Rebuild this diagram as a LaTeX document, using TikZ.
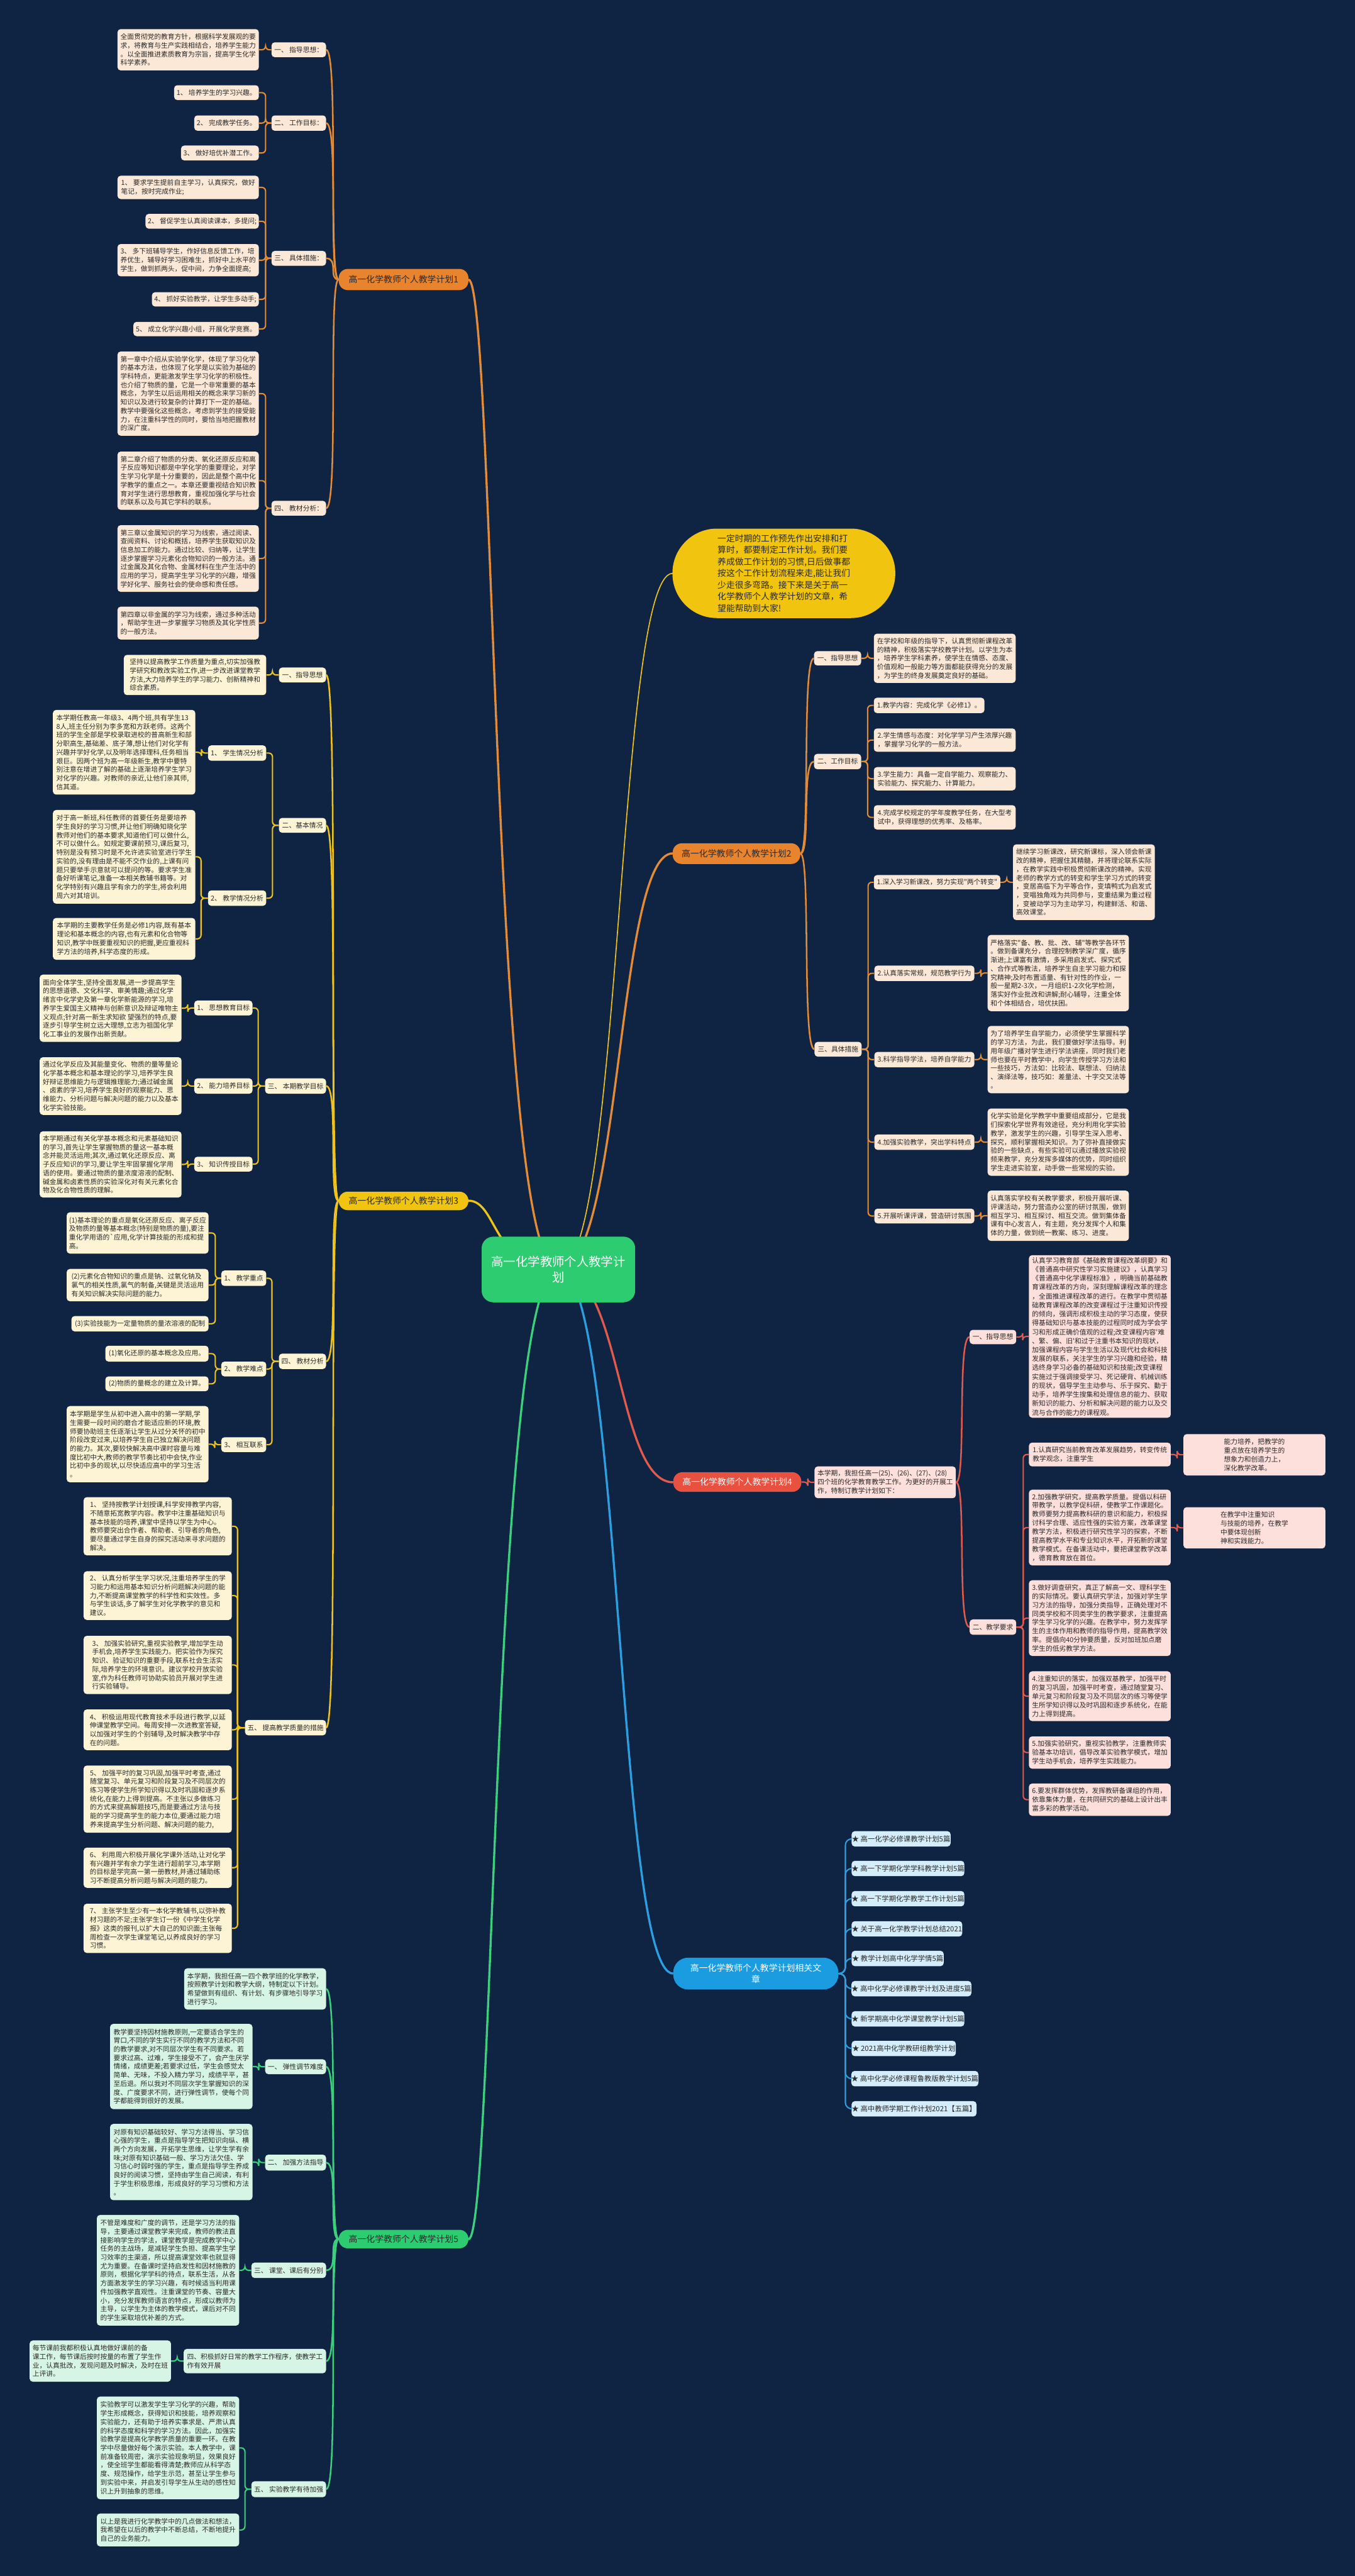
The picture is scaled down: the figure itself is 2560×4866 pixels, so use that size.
\documentclass[tikz,border=0pt]{standalone}
\usepackage{fontspec}
\newfontfamily\cjk{Noto Sans CJK SC}
\definecolor{bg}{HTML}{0F2342}
\definecolor{txt}{HTML}{2A2A2A}
\definecolor{oline}{HTML}{E38B35}
\definecolor{ofill}{HTML}{FCE8D6}
\definecolor{onode}{HTML}{E8832E}
\definecolor{yline}{HTML}{EFC31B}
\definecolor{yfill}{HTML}{FCF4D4}
\definecolor{ynode}{HTML}{F1C40F}
\definecolor{rline}{HTML}{E15A4C}
\definecolor{rfill}{HTML}{FDDFDB}
\definecolor{rnode}{HTML}{E8503F}
\definecolor{bline}{HTML}{2D9FE0}
\definecolor{bfill}{HTML}{D4EDFA}
\definecolor{bnode}{HTML}{1B9CE0}
\definecolor{gline}{HTML}{3CCF7C}
\definecolor{gfill}{HTML}{D7F5E5}
\definecolor{gnode}{HTML}{2ECC71}
\tikzset{
  base/.style={font={\cjk\fontsize{12.8}{16.3}\selectfont}, inner sep=0pt, align=left, text=txt, rounded corners=6pt},
  ol/.style={base, fill=ofill},
  yl/.style={base, fill=yfill},
  rl/.style={base, fill=rfill, font={\cjk\fontsize{12.8}{16.6}\selectfont}},
  bl/.style={base, fill=bfill, font={\cjk\fontsize{13.5}{16}\selectfont}},
  gl/.style={base, fill=gfill},
  bn/.style={base, rounded corners=17pt, font={\cjk\fontsize{16.5}{21}\selectfont}, align=center},
  cn/.style={base, rounded corners=22pt, fill=gnode, text=white, font={\cjk\fontsize{23}{30}\selectfont}, align=center},
  bub/.style={base, rounded corners=84pt, fill=ynode, text=txt, font={\cjk\fontsize{16.4}{22}\selectfont}},
  ocon/.style={draw=oline, line width=2.5pt},
  ycon/.style={draw=yline, line width=2.5pt},
  rcon/.style={draw=rline, line width=2.5pt},
  bcon/.style={draw=bline, line width=2.5pt},
  gcon/.style={draw=gline, line width=2.5pt},
}
\newcommand\bx[7]{\node[#6,minimum width={(#4)-(#2)},minimum height={(#5)-(#3)}] (#1) at ({((#2)+(#4))/2},{((#3)+(#5))/2}) {#7};}
\newcommand\lbr[4]{\draw[#1,rounded corners=7pt] (#2.west) -- ++(-#4,0) |- (#3.east);}
\newcommand\rbr[4]{\draw[#1,rounded corners=7pt] (#2.east) -- ++(#4,0) |- (#3.west);}
\newcommand\ltr[3]{\draw[#1] (#2.west) .. controls +(-20,0) and +(24,0) .. (#3.east);}
\newcommand\rtr[3]{\draw[#1] (#2.east) .. controls +(20,0) and +(-24,0) .. (#3.west);}
\begin{document}
\begin{tikzpicture}[x=1pt,y=-1pt]
\useasboundingbox (0,0) rectangle (2560,4866);
\fill[bg] (0,0) rectangle (2560,4866);
\coordinate (cc) at (1055,2398);
% ---------- center connections (drawn first) ----------
\draw[draw=oline,line width=4pt] (cc) .. controls (930,2398) and (935,528) .. (885,528);
\draw[draw=yline,line width=4pt] (cc) .. controls (930,2398) and (940,2268) .. (885,2268);
\draw[draw=gline,line width=4pt] (cc) .. controls (930,2398) and (935,4230) .. (885,4230);
\draw[draw=yline,line width=2pt] (cc) .. controls (1175,2398) and (1165,1083) .. (1271,1083);
\draw[draw=oline,line width=4pt] (cc) .. controls (1175,2398) and (1165,1612) .. (1271,1612);
\draw[draw=rline,line width=4pt] (cc) .. controls (1175,2398) and (1165,2800) .. (1272,2800);
\draw[draw=bline,line width=4pt] (cc) .. controls (1175,2398) and (1165,3728) .. (1272,3728);
\bx{c}{910}{2336}{1200}{2460}{cn}{高一化学教师个人教学计\\划}
\node[bub,minimum width=421pt,minimum height=169pt] (bubl) at (1481,1083) {一定时期的工作预先作出安排和打\\算时，都要制定工作计划。我们要\\养成做工作计划的习惯,日后做事都\\按这个工作计划流程来走,能让我们\\少走很多弯路。接下来是关于高一\\化学教师个人教学计划的文章，希\\望能帮助到大家!};
% ================= Branch 1 =================
\bx{b1}{640}{508}{885}{548}{bn,fill=onode}{高一化学教师个人教学计划1}
\bx{b1a}{513}{80}{616}{108}{ol}{一、 指导思想：}
\bx{b1b}{513}{218}{616}{247}{ol}{二、 工作目标：}
\bx{b1c}{513}{474}{616}{502}{ol}{三、 具体措施：}
\bx{b1d}{513}{946}{616}{974}{ol}{四、 教材分析：}
\bx{b1a1}{222}{55}{489}{133}{ol}{全面贯彻党的教育方针，根据科学发展观的要\\求，将教育与生产实践相结合，培养学生能力\\。以全面推进素质教育为宗旨，提高学生化学\\科学素养。}
\bx{b1b1}{329}{161}{489}{189}{ol}{1、 培养学生的学习兴趣。}
\bx{b1b2}{367}{218}{489}{247}{ol}{2、 完成教学任务。}
\bx{b1b3}{342}{275}{489}{303}{ol}{3、 做好培优补潜工作。}
\bx{b1c1}{222}{332}{489}{376}{ol}{1、 要求学生提前自主学习，认真探究，做好\\笔记，按时完成作业;}
\bx{b1c2}{275}{404}{489}{432}{ol}{2、 督促学生认真阅读课本，多提问;}
\bx{b1c3}{222}{461}{489}{522}{ol}{3、 多下班辅导学生，作好信息反馈工作，培\\养优生，辅导好学习困难生，抓好中上水平的\\学生，做到抓两头，促中间，力争全面提高;}
\bx{b1c4}{287}{552}{489}{579}{ol}{4、 抓好实验教学，让学生多动手;}
\bx{b1c5}{252}{608}{489}{635}{ol}{5、 成立化学兴趣小组，开展化学竞赛。}
\bx{b1d1}{222}{664}{489}{823}{ol}{第一章中介绍从实验学化学，体现了学习化学\\的基本方法，也体现了化学是以实验为基础的\\学科特点，更能激发学生学习化学的积极性。\\也介绍了物质的量，它是一个非常重要的基本\\概念，为学生以后运用相关的概念来学习新的\\知识以及进行较复杂的计算打下一定的基础。\\教学中要强化这些概念，考虑到学生的接受能\\力，在注重科学性的同时，要恰当地把握教材\\的深广度。}
\bx{b1d2}{222}{853}{489}{963}{ol}{第二章介绍了物质的分类、氧化还原反应和离\\子反应等知识都是中学化学的重要理论，对学\\生学习化学是十分重要的，因此是整个高中化\\学教学的重点之一。本章还要重视结合知识教\\育对学生进行思想教育，重视加强化学与社会\\的联系以及与其它学科的联系。}
\bx{b1d3}{222}{992}{489}{1118}{ol}{第三章以金属知识的学习为线索，通过阅读、\\查阅资料、讨论和概括，培养学生获取知识及\\信息加工的能力。通过比较、归纳等，让学生\\逐步掌握学习元素化合物知识的一般方法。通\\过金属及其化合物、金属材料在生产生活中的\\应用的学习，提高学生学习化学的兴趣，增强\\学好化学、服务社会的使命感和责任感。}
\bx{b1d4}{222}{1146}{489}{1208}{ol}{第四章以非金属的学习为线索，通过多种活动\\，帮助学生进一步掌握学习物质及其化学性质\\的一般方法。}
\foreach \l in {b1a,b1b,b1c,b1d} {\ltr{ocon,line width=3pt}{b1}{\l}}
\lbr{ocon}{b1a}{b1a1}{11}
\foreach \l in {b1b1,b1b2,b1b3} {\lbr{ocon}{b1b}{\l}{11}}
\foreach \l in {b1c1,b1c2,b1c3,b1c4,b1c5} {\lbr{ocon}{b1c}{\l}{11}}
\foreach \l in {b1d1,b1d2,b1d3,b1d4} {\lbr{ocon}{b1d}{\l}{11}}
% ================= Branch 2 =================
\bx{b2}{1271}{1593}{1512}{1632}{bn,fill=onode}{高一化学教师个人教学计划2}
\bx{b2a}{1538}{1230}{1627}{1257}{ol}{一、指导思想}
\bx{b2b}{1538}{1424}{1627}{1453}{ol}{二、工作目标}
\bx{b2c}{1539}{1968}{1628}{1996}{ol}{三、具体措施}
\bx{b2a1}{1651}{1197}{1919}{1290}{ol}{在学校和年级的指导下，认真贯彻新课程改革\\的精神，积极落实学校教学计划。以学生为本\\，培养学生学科素养，使学生在情感、态度、\\价值观和一般能力等方面都能获得充分的发展\\，为学生的终身发展奠定良好的基础。}
\bx{b2b1}{1651}{1318}{1860}{1347}{ol}{1.教学内容：完成化学《必修1》。}
\bx{b2b2}{1651}{1376}{1919}{1420}{ol}{2.学生情感与态度：对化学学习产生浓厚兴趣\\，掌握学习化学的一般方法。}
\bx{b2b3}{1651}{1449}{1919}{1493}{ol}{3.学生能力：具备一定自学能力、观察能力、\\实验能力、探究能力、计算能力。}
\bx{b2b4}{1651}{1521}{1919}{1567}{ol}{4.完成学校规定的学年度教学任务，在大型考\\试中，获得理想的优秀率、及格率。}
\bx{b2c1}{1651}{1653}{1890}{1680}{ol}{1.深入学习新课改，努力实现"两个转变"}
\bx{b2c2}{1652}{1824}{1841}{1853}{ol}{2.认真落实常规，规范教学行为}
\bx{b2c3}{1652}{1987}{1841}{2016}{ol}{3.科学指导学法，培养自学能力}
\bx{b2c4}{1652}{2143}{1841}{2172}{ol}{4.加强实验教学，突出学科特点}
\bx{b2c5}{1652}{2283}{1841}{2311}{ol}{5.开展听课评课，营造研讨氛围}
\bx{b2c1a}{1914}{1595}{2182}{1738}{ol}{继续学习新课改，研究新课标，深入领会新课\\改的精神，把握住其精髓，并将理论联系实际\\，在教学实践中积极贯彻新课改的精神。实现\\老师的教学方式的转变和学生学习方式的转变\\，变居高临下为平等合作，变填鸭式为启发式\\，变唱独角戏为共同参与，变重结果为重过程\\，变被动学习为主动学习，构建鲜活、和谐、\\高效课堂。}
\bx{b2c2a}{1866}{1766}{2133}{1910}{ol}{严格落实"备、教、批、改、辅"等教学各环节\\。做到备课充分，合理控制教学深广度，循序\\渐进;上课富有激情，多采用启发式、探究式\\、合作式等教法，培养学生自主学习能力和探\\究精神;及时布置适量、有针对性的作业，一\\般一星期2-3次，一月组织1-2次化学检测，\\落实好作业批改和讲解;耐心辅导，注重全体\\和个体相结合，培优扶困。}
\bx{b2c3a}{1866}{1938}{2133}{2065}{ol}{为了培养学生自学能力，必须使学生掌握科学\\的学习方法，为此，我们要做好学法指导。利\\用年级广播对学生进行学法讲座，同时我们老\\师也要在平时教学中，向学生传授学习方法和\\一些技巧，方法如：比较法、联想法、归纳法\\、演绎法等，技巧如：差量法、十字交叉法等\\。}
\bx{b2c4a}{1866}{2094}{2133}{2221}{ol}{化学实验是化学教学中重要组成部分，它是我\\们探索化学世界有效途径，充分利用化学实验\\教学，激发学生的兴趣，引导学生深入思考、\\探究，顺利掌握相关知识。为了弥补直接做实\\验的一些缺点，有些实验可以通过播放实验视\\频来教学，充分发挥多媒体的优势，同时组织\\学生走进实验室，动手做一些常规的实验。}
\bx{b2c5a}{1866}{2249}{2133}{2344}{ol}{认真落实学校有关教学要求，积极开展听课、\\评课活动，努力营造办公室的研讨氛围，做到\\相互学习、相互探讨、相互交流。做到集体备\\课有中心发言人，有主题，充分发挥个人和集\\体的力量，做到统一教案、练习、进度。}
\foreach \l in {b2a,b2b,b2c} {\rtr{ocon,line width=3pt}{b2}{\l}}
\rbr{ocon}{b2a}{b2a1}{12}
\foreach \l in {b2b1,b2b2,b2b3,b2b4} {\rbr{ocon}{b2b}{\l}{12}}
\foreach \l in {b2c1,b2c2,b2c3,b2c4,b2c5} {\rbr{ocon}{b2c}{\l}{12}}
\rbr{ocon}{b2c1}{b2c1a}{12}
\rbr{ocon}{b2c2}{b2c2a}{12}
\rbr{ocon}{b2c3}{b2c3a}{12}
\rbr{ocon}{b2c4}{b2c4a}{12}
\rbr{ocon}{b2c5}{b2c5a}{12}
% ================= Branch 3 =================
\bx{b3}{640}{2251}{885}{2286}{bn,fill=ynode}{高一化学教师个人教学计划3}
\bx{b3a}{527}{1261}{616}{1289}{yl}{一、指导思想}
\bx{b3b}{527}{1545}{616}{1573}{yl}{二、基本情况}
\bx{b3c}{501}{2037}{616}{2066}{yl}{三、 本期教学目标}
\bx{b3d}{527}{2557}{616}{2586}{yl}{四、 教材分析}
\bx{b3e}{463}{3249}{616}{3278}{yl}{五、 提高教学质量的措施}
\bx{b3a1}{234}{1237}{503}{1313}{yl}{坚持以提高教学工作质量为重点,切实加强教\\学研究和教改实验工作,进一步改进课堂教学\\方法,大力培养学生的学习能力、创新精神和\\综合素质。}
\bx{b3b1}{393}{1408}{503}{1437}{yl}{1、 学生情况分析}
\bx{b3b2}{393}{1682}{503}{1711}{yl}{2、 教学情况分析}
\bx{b3b1a}{100}{1341}{369}{1501}{yl}{本学期任教高一年级3、4两个班,共有学生13\\8人,班主任分别为李多宽和方跃老师。这两个\\班的学生全部是学校录取进校的普高新生和部\\分职高生,基础差、底子薄,想让他们对化学有\\兴趣并学好化学,以及明年选择理科,任务相当\\艰巨。因两个班为高一年级新生,教学中要特\\别注意在增进了解的基础上逐渐培养学生学习\\对化学的兴趣。对教师的亲近,让他们亲其师,\\信其道。}
\bx{b3b2a}{100}{1530}{369}{1707}{yl}{对于高一新班,科任教师的首要任务是要培养\\学生良好的学习习惯,并让他们明确知晓化学\\教师对他们的基本要求,知道他们可以做什么,\\不可以做什么。如规定要课前预习,课后复习,\\特别是没有预习时是不允许进实验室进行学生\\实验的,没有理由是不能不交作业的,上课有问\\题只要举手示意就可以提问的等。要求学生准\\备好听课笔记,准备一本相关教辅书籍等。对\\化学特别有兴趣且学有余力的学生,将会利用\\周六对其培训。}
\bx{b3b2b}{100}{1734}{369}{1813}{yl}{本学期的主要教学任务是必修1内容,既有基本\\理论和基本概念的内容,也有元素和化合物等\\知识,教学中既要重视知识的把握,更应重视科\\学方法的培养,科学态度的形成。}
\bx{b3c1}{367}{1890}{477}{1918}{yl}{1、 思想教育目标}
\bx{b3c2}{367}{2037}{477}{2066}{yl}{2、 能力培养目标}
\bx{b3c3}{367}{2185}{477}{2213}{yl}{3、 知识传授目标}
\bx{b3c1a}{75}{1841}{343}{1968}{yl}{面向全体学生,坚持全面发展,进一步提高学生\\的思想道德、文化科学、审美情趣;通过化学\\绪言中化学史及第一章化学新能源的学习,培\\养学生爱国主义精神与创新意识及辩证唯物主\\义观点;针对高一新生求知欲 望强烈的特点,要\\逐步引导学生树立远大理想,立志为祖国化学\\化工事业的发展作出新贡献。}
\bx{b3c2a}{75}{1997}{343}{2106}{yl}{通过化学反应及其能量变化、物质的量等量论\\化学基本概念和基本理论的学习,培养学生良\\好辩证思维能力与逻辑推理能力;通过碱金属\\、卤素的学习,培养学生良好的观察能力、思\\维能力、分析问题与解决问题的能力以及基本\\化学实验技能。}
\bx{b3c3a}{75}{2137}{343}{2262}{yl}{本学期通过有关化学基本概念和元素基础知识\\的学习,首先让学生掌握物质的量这一基本概\\念并能灵活运用;其次,通过氧化还原反应、离\\子反应知识的学习,要让学生牢固掌握化学用\\语的使用。要通过物质的量浓度溶液的配制、\\碱金属和卤素性质的实验深化对有关元素化合\\物及化合物性质的理解。}
\bx{b3d1}{418}{2400}{503}{2429}{yl}{1、 教学重点}
\bx{b3d2}{418}{2572}{503}{2600}{yl}{2、 教学难点}
\bx{b3d3}{418}{2715}{503}{2743}{yl}{3、 相互联系}
\bx{b3d1a}{126}{2290}{394}{2368}{yl}{(1)基本理论的重点是氧化还原反应、离子反应\\及物质的量等基本概念(特别是物质的量),要注\\重化学用语的`应用,化学计算技能的形成和提\\高。}
\bx{b3d1b}{126}{2397}{394}{2458}{yl}{(2)元素化合物知识的重点是钠、过氧化钠及\\氯气的相关性质,氯气的制备,关键是灵活运用\\有关知识解决实际问题的能力。}
\bx{b3d1c}{135}{2486}{394}{2515}{yl}{(3)实验技能为一定量物质的量浓溶液的配制}
\bx{b3d2a}{199}{2542}{394}{2572}{yl}{(1)氧化还原的基本概念及应用。}
\bx{b3d2b}{199}{2600}{394}{2628}{yl}{(2)物质的量概念的建立及计算。}
\bx{b3d3a}{126}{2656}{394}{2800}{yl}{本学期是学生从初中进入高中的第一学期,学\\生需要一段时间的磨合才能适应新的环境,教\\师要协助班主任逐渐让学生从过分关怀的初中\\阶段改变过来,以培养学生自己独立解决问题\\的能力。其次,要较快解决高中课时容量与难\\度比初中大,教师的教学节奏比初中会快,作业\\比初中多的现状,以尽快适应高中的学习生活\\。}
\bx{b3e1}{158}{2828}{438}{2938}{yl}{1、 坚持按教学计划授课,科学安排教学内容,\\不随意拓宽教学内容。教学中注重基础知识与\\基本技能的培养,课堂中坚持以学生为中心。\\教师要突出合作者、帮助者、引导者的角色,\\要尽量通过学生自身的探究活动来寻求问题的\\解决。}
\bx{b3e2}{158}{2968}{438}{3060}{yl}{2、 认真分析学生学习状况,注重培养学生的学\\习能力和运用基本知识分析问题解决问题的能\\力,不断提高课堂教学的科学性和实效性。多\\与学生谈话,多了解学生对化学教学的意见和\\建议。}
\bx{b3e3}{158}{3090}{438}{3200}{yl}{3、 加强实验研究,重视实验教学,增加学生动\\手机会,培养学生实践能力。把实验作为探究\\知识、验证知识的重要手段,联系社会生活实\\际,培养学生的环境意识。建议学校开放实验\\室,作为科任教师可协助实验员开展对学生进\\行实验辅导。}
\bx{b3e4}{158}{3229}{438}{3306}{yl}{4、 积极运用现代教育技术手段进行教学,以延\\伸课堂教学空间。每周安排一次进教室答疑,\\以加强对学生的个别辅导,及时解决教学中存\\在的问题。}
\bx{b3e5}{158}{3335}{438}{3462}{yl}{5、 加强平时的复习巩固,加强平时考查,通过\\随堂复习、单元复习和阶段复习及不同层次的\\练习等使学生所学知识得以及时巩固和逐步系\\统化,在能力上得到提高。不主张以多做练习\\的方式来提高解题技巧,而是要通过方法与技\\能的学习提高学生的能力本位,要通过能力培\\养来提高学生分析问题、解决问题的能力,}
\bx{b3e6}{158}{3490}{438}{3566}{yl}{6、 利用周六积极开展化学课外活动,让对化学\\有兴趣并学有余力学生进行超前学习,本学期\\的目标是学完高一第一册教材,并通过辅助练\\习不断提高分析问题与解决问题的能力。}
\bx{b3e7}{158}{3596}{438}{3689}{yl}{7、 主张学生至少有一本化学教辅书,以弥补教\\材习题的不足;主张学生订一份《中学生化学\\报》这类的报刊,以扩大自己的知识面;主张每\\周检查一次学生课堂笔记,以养成良好的学习\\习惯。}
\foreach \l in {b3a,b3b,b3c,b3d,b3e} {\ltr{ycon,line width=3pt}{b3}{\l}}
\lbr{ycon}{b3a}{b3a1}{12}
\foreach \l in {b3b1,b3b2} {\lbr{ycon}{b3b}{\l}{12}}
\lbr{ycon}{b3b1}{b3b1a}{12}
\foreach \l in {b3b2a,b3b2b} {\lbr{ycon}{b3b2}{\l}{13}}
\foreach \l in {b3c1,b3c2,b3c3} {\lbr{ycon}{b3c}{\l}{13}}
\lbr{ycon}{b3c1}{b3c1a}{12}
\lbr{ycon}{b3c2}{b3c2a}{12}
\lbr{ycon}{b3c3}{b3c3a}{12}
\foreach \l in {b3d1,b3d2,b3d3} {\lbr{ycon}{b3d}{\l}{13}}
\foreach \l in {b3d1a,b3d1b,b3d1c} {\lbr{ycon}{b3d1}{\l}{11}}
\foreach \l in {b3d2a,b3d2b} {\lbr{ycon}{b3d2}{\l}{11}}
\lbr{ycon}{b3d3}{b3d3a}{12}
\foreach \l in {b3e1,b3e2,b3e3,b3e4,b3e5,b3e6,b3e7} {\lbr{ycon}{b3e}{\l}{14}}
% ================= Branch 4 =================
\bx{b4}{1272}{2781}{1514}{2818}{bn,fill=rnode,text=white}{高一化学教师个人教学计划4}
\bx{b4i}{1539}{2770}{1806}{2830}{rl}{本学期，我担任高一(25)、(26)、(27)、(28)\\四个班的化学教育教学工作。为更好的开展工\\作，特制订教学计划如下：}
\bx{b4a}{1832}{2512}{1920}{2539}{rl}{一、指导思想}
\bx{b4b}{1832}{3059}{1920}{3088}{rl}{二、教学要求}
\bx{b4a1}{1944}{2371}{2212}{2678}{rl,font={\cjk\fontsize{12.8}{16.9}\selectfont}}{认真学习教育部《基础教育课程改革纲要》和\\《普通高中研究性学习实施建议》，认真学习\\《普通高中化学课程标准》，明确当前基础教\\育课程改革的方向，深刻理解课程改革的理念\\，全面推进课程改革的进行。在教学中贯彻基\\础教育课程改革的改变课程过于注重知识传授\\的倾向，强调形成积极主动的学习态度，使获\\得基础知识与基本技能的过程同时成为学会学\\习和形成正确价值观的过程;改变课程内容'难\\、繁、偏、旧'和过于注重书本知识的现状，\\加强课程内容与学生生活以及现代社会和科技\\发展的联系，关注学生的学习兴趣和经验，精\\选终身学习必备的基础知识和技能;改变课程\\实施过于强调接受学习、死记硬背、机械训练\\的现状，倡导学生主动参与、乐于探究、勤于\\动手，培养学生搜集和处理信息的能力、获取\\新知识的能力、分析和解决问题的能力以及交\\流与合作的能力的课程观。}
\bx{b4b1}{1944}{2725}{2212}{2770}{rl}{1.认真研究当前教育改革发展趋势，转变传统\\教学观念，注重学生}
\bx{b4b2}{1944}{2814}{2212}{2957}{rl}{2.加强教学研究，提高教学质量。提倡以科研\\带教学，以教学促科研，使教学工作课题化。\\教师要努力提高教科研的意识和能力，积极探\\讨科学合理、适应性强的实验方案，改革课堂\\教学方法，积极进行研究性学习的探索，不断\\提高教学水平和专业知识水平，开拓新的课堂\\教学模式。在备课活动中，要把课堂教学改革\\，德育教育放在首位。}
\bx{b4b3}{1944}{2985}{2212}{3128}{rl}{3.做好调查研究，真正了解高一文、理科学生\\的实际情况。要认真研究学法，加强对学生学\\习方法的指导，加强分类指导，正确处理对不\\同类学校和不同类学生的教学要求，注重提高\\学生学习化学的兴趣。在教学中，努力发挥学\\生的主体作用和教师的指导作用，提高教学效\\率。提倡向40分钟要质量，反对加班加点磨\\学生的低劣教学方法。}
\bx{b4b4}{1944}{3157}{2212}{3251}{rl}{4.注重知识的落实，加强双基教学，加强平时\\的复习巩固，加强平时考查，通过随堂复习、\\单元复习和阶段复习及不同层次的练习等使学\\生所学知识得以及时巩固和逐步系统化，在能\\力上得到提高。}
\bx{b4b5}{1944}{3280}{2212}{3341}{rl}{5.加强实验研究，重视实验教学，注重教师实\\验基本功培训，倡导改革实验教学模式，增加\\学生动手机会，培养学生实践能力。}
\bx{b4b6}{1944}{3369}{2212}{3430}{rl}{6.要发挥群体优势，发挥教研备课组的作用，\\依靠集体力量，在共同研究的基础上设计出丰\\富多彩的教学活动。}
\bx{b4b1x}{2236}{2709}{2504}{2787}{rl}{能力培养，把教学的\\重点放在培养学生的\\想象力和创造力上，\\深化教学改革。}
\bx{b4b2x}{2236}{2847}{2504}{2925}{rl}{在教学中注重知识\\与技能的培养，在教学\\中要体现创新\\神和实践能力。}
\rbr{rcon}{b4}{b4i}{12}
\foreach \l in {b4a,b4b} {\rtr{rcon,line width=3pt}{b4i}{\l}}
\rbr{rcon}{b4a}{b4a1}{12}
\foreach \l in {b4b1,b4b2,b4b3,b4b4,b4b5,b4b6} {\rbr{rcon}{b4b}{\l}{13}}
\rbr{rcon}{b4b1}{b4b1x}{12}
\rbr{rcon}{b4b2}{b4b2x}{12}
% ================= Branch 5 =================
\bx{b5}{1272}{3698}{1584}{3758}{bn,fill=bnode,text=white,rounded corners=28pt}{高一化学教师个人教学计划相关文\\章}
\bx{b5k1}{1609}{3459}{1796}{3488}{bl}{★ 高一化学必修课教学计划5篇}
\bx{b5k2}{1609}{3515}{1822}{3544}{bl}{★ 高一下学期化学学科教学计划5篇}
\bx{b5k3}{1609}{3572}{1822}{3601}{bl}{★ 高一下学期化学教学工作计划5篇}
\bx{b5k4}{1609}{3629}{1818}{3658}{bl}{★ 关于高一化学教学计划总结2021}
\bx{b5k5}{1609}{3685}{1783}{3714}{bl}{★ 教学计划高中化学学情5篇}
\bx{b5k6}{1609}{3742}{1835}{3771}{bl}{★ 高中化学必修课教学计划及进度5篇}
\bx{b5k7}{1609}{3799}{1822}{3828}{bl}{★ 新学期高中化学课堂教学计划5篇}
\bx{b5k8}{1609}{3855}{1806}{3884}{bl}{★ 2021高中化学教研组教学计划}
\bx{b5k9}{1609}{3912}{1848}{3941}{bl}{★ 高中化学必修课程鲁教版教学计划5篇}
\bx{b5k10}{1609}{3969}{1845}{3998}{bl}{★ 高中教师学期工作计划2021【五篇】}
\foreach \l in {b5k1,b5k2,b5k3,b5k4,b5k5,b5k6,b5k7,b5k8,b5k9,b5k10} {\draw[bcon,rounded corners=12pt] (b5.east) -- ++(13,0) |- (\l.west);}
% ================= Branch 6 =================
\bx{b6}{640}{4212}{885}{4247}{bn,fill=gnode}{高一化学教师个人教学计划5}
\bx{b6i}{348}{3718}{616}{3796}{gl}{本学期，我担任高一四个教学班的化学教学，\\按照教学计划和教学大纲，特制定以下计划。\\希望做到有组织、有计划、有步骤地引导学习\\进行学习。}
\bx{b6a}{501}{3890}{616}{3918}{gl}{一、 弹性调节难度}
\bx{b6b}{501}{4070}{616}{4100}{gl}{二、 加强方法指导}
\bx{b6c}{475}{4274}{616}{4303}{gl}{三、 课堂、课后有分别}
\bx{b6d}{347}{4437}{616}{4483}{gl}{四、积极抓好日常的教学工作程序，使教学工\\作有效开展}
\bx{b6e}{475}{4687}{616}{4717}{gl}{五、 实验教学有待加强}
\bx{b6a1}{208}{3823}{477}{3984}{gl}{教学要坚持因材施教原则,一定要适合学生的\\胃口,不同的学生实行不同的教学方法和不同\\的教学要求,对不同层次学生有不同要求。若\\要求过高、过难，学生接受不了，会产生厌学\\情绪，成绩更差;若要求过低，学生会感觉太\\简单、无味，不投入精力学习，成绩平平，甚\\至后退。所以我对不同层次学生掌握知识的深\\度、广度要求不同，进行弹性调节，使每个同\\学都能得到很好的发展。}
\bx{b6b1}{208}{4012}{477}{4156}{gl}{对原有知识基础较好、学习方法得当、学习信\\心强的学生，重点是指导学生把知识向纵、横\\两个方向发展，开拓学生思维，让学生学有余\\味;对原有知识基础一般、学习方法欠佳、学\\习信心时弱时强的学生，重点是指导学生养成\\良好的阅读习惯，坚持由学生自己阅读，有利\\于学生积极思维，形成良好的学习习惯和方法\\。}
\bx{b6c1}{183}{4184}{452}{4393}{gl}{不管是难度和广度的调节，还是学习方法的指\\导，主要通过课堂教学来完成，教师的教法直\\接影响学生的学法，课堂教学是完成教学中心\\任务的主战场，是减轻学生负担、提高学生学\\习效率的主渠道，所以提高课堂效率也就显得\\尤为重要。在备课时坚持启发性和因材施教的\\原则，根据化学学科的待点，联系生活，从各\\方面激发学生的学习兴趣，有时候适当利用课\\件加强教学直观性。注重课堂的节奏、容量大\\小，充分发挥教师语言的特点，形成以教师为\\主导，以学生为主体的教学模式，课后对不同\\的学生采取培优补差的方式。}
\bx{b6d1}{56}{4421}{323}{4499}{gl}{每节课前我都积极认真地做好课前的备\\课工作，每节课后按时按量的布置了学生作\\业，认真批改，发现问题及时解决，及时在班\\上评讲。}
\bx{b6e1}{183}{4527}{452}{4721}{gl}{实验教学可以激发学生学习化学的兴趣，帮助\\学生形成概念，获得知识和技能，培养观察和\\实验能力，还有助于培养实事求是、严肃认真\\的科学态度和科学的学习方法。因此，加强实\\验教学是提高化学教学质量的重要一环。在教\\学中尽量做好每个演示实验。本人教学中，课\\前准备较周密，演示实验现象明显，效果良好\\，使全班学生都能看得清楚;教师应从科学态\\度、规范操作，给学生示范，甚至让学生参与\\到实验中来，并启发引导学生从生动的感性知\\识上升到抽象的思维。}
\bx{b6e2}{183}{4748}{452}{4810}{gl}{以上是我进行化学教学中的几点做法和想法，\\我希望在以后的教学中不断总结，不断地提升\\自己的业务能力。}
\foreach \l in {b6i,b6a,b6b,b6c,b6d,b6e} {\ltr{gcon,line width=3pt}{b6}{\l}}
\lbr{gcon}{b6a}{b6a1}{12}
\lbr{gcon}{b6b}{b6b1}{12}
\lbr{gcon}{b6c}{b6c1}{12}
\lbr{gcon}{b6d}{b6d1}{12}
\foreach \l in {b6e1,b6e2} {\lbr{gcon}{b6e}{\l}{12}}
\end{tikzpicture}
\end{document}
